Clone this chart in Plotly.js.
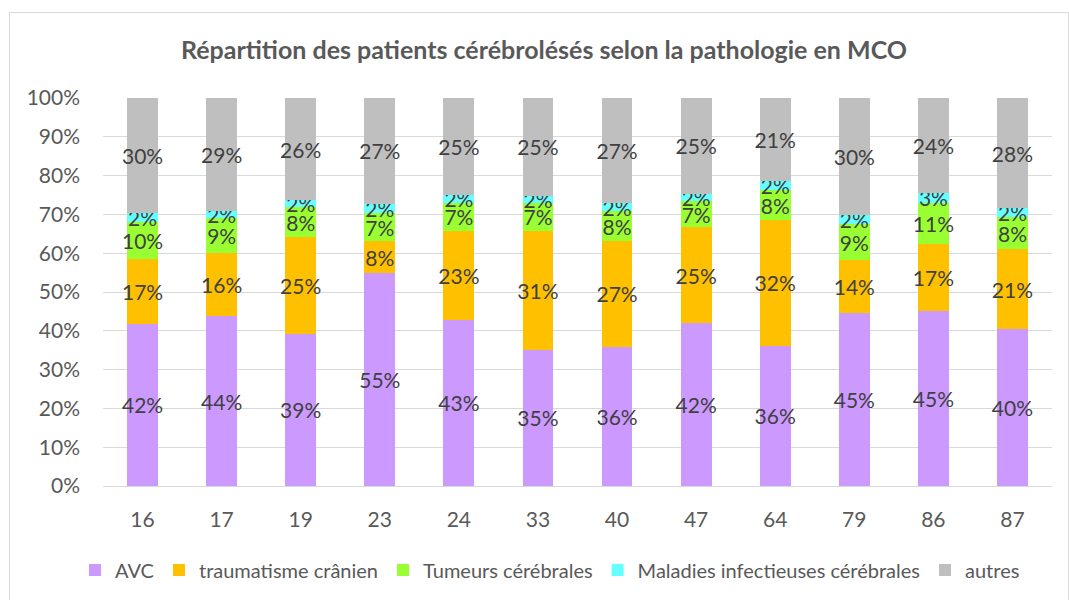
<!DOCTYPE html>
<html>
<head>
<meta charset="utf-8">
<script src="https://cdn.plot.ly/plotly-3.0.1.min.js"></script>
<style>html,body{margin:0;padding:0;background:#fff;}#chart{width:1069px;height:600px;}</style>
</head>
<body>
<div id="chart"></div>
<script>
const categories = ["16","17","19","23","24","33","40","47","64","79","86","87"];
const avc        = [0.418,0.438,0.393,0.548,0.428,0.351,0.359,0.419,0.362,0.447,0.452,0.404];
const trauma     = [0.166,0.163,0.248,0.084,0.230,0.306,0.273,0.248,0.324,0.136,0.172,0.207];
const tumeurs    = [0.097,0.089,0.077,0.071,0.072,0.073,0.076,0.068,0.076,0.091,0.106,0.082];
const maladies   = [0.023,0.019,0.018,0.024,0.020,0.018,0.022,0.018,0.024,0.024,0.026,0.023];
const autres     = [0.296,0.291,0.264,0.273,0.250,0.252,0.270,0.247,0.214,0.302,0.244,0.284];

const seriesNames  = ["AVC","traumatisme crânien","Tumeurs cérébrales","Maladies infectieuses cérébrales","autres"];
const seriesValues = [avc, trauma, tumeurs, maladies, autres];
const seriesColors = ["#CC99FF","#FFC000","#99FF33","#66FFFF","#BFBFBF"];

const FONT = "Lato, 'Open Sans', sans-serif";

const traces = seriesNames.map((name, i) => ({
  type: "bar",
  name: name,
  x: categories,
  y: seriesValues[i],
  marker: {color: seriesColors[i], line: {width: 0}},
  width: 0.39,
  texttemplate: "%{y:.0%}",
  textposition: "inside",
  insidetextanchor: "middle",
  constraintext: "none",
  textangle: 0,
  cliponaxis: false,
  textfont: {family: FONT, size: 21, color: "#404040"},
  hoverinfo: "skip"
}));

const X = px => (px - 103) / 949;
const Y = py => (486 - py) / 388;

const layout = {
  width: 1069, height: 600,
  margin: {l: 103, r: 17, t: 98, b: 114},
  paper_bgcolor: "#fff", plot_bgcolor: "#fff",
  barmode: "stack",
  font: {family: FONT, color: "#595959"},
  title: {
    text: "Répartition des patients cérébrolésés selon la pathologie en MCO",
    font: {family: FONT, size: 25, color: "#595959", weight: "bold"},
    xref: "container", x: 544/1069, xanchor: "center",
    yref: "container", y: 1 - 50/600, yanchor: "middle"
  },
  xaxis: {
    type: "category",
    tickfont: {family: FONT, size: 21, color: "#595959"},
    showgrid: false, showline: false, zeroline: false,
    ticks: "", ticklabelstandoff: 19
  },
  yaxis: {
    range: [0, 1],
    dtick: 0.1,
    tickformat: ".0%",
    tickfont: {family: FONT, size: 21, color: "#595959"},
    gridcolor: "#D9D9D9", gridwidth: 1,
    zeroline: true, zerolinecolor: "#D9D9D9", zerolinewidth: 1,
    showline: false, ticks: "", ticklabelstandoff: 22
  },
  legend: {
    orientation: "h",
    xref: "container", x: 550/1069, xanchor: "center",
    yref: "container", y: 1 - 570/600, yanchor: "middle",
    font: {family: FONT, size: 20, color: "#595959"},
    bgcolor: "rgba(0,0,0,0)",
    traceorder: "normal",
    itemwidth: 30
  },
  showlegend: true,
  shapes: [{
    type: "rect", xref: "paper", yref: "paper",
    x0: X(9.5), x1: X(1068.5), y0: Y(640), y1: Y(12.5),
    line: {color: "#D9D9D9", width: 1}, fillcolor: "rgba(0,0,0,0)", layer: "below"
  }]
};

Plotly.newPlot("chart", traces, layout, {displayModeBar: false, staticPlot: true});
</script>
</body>
</html>
